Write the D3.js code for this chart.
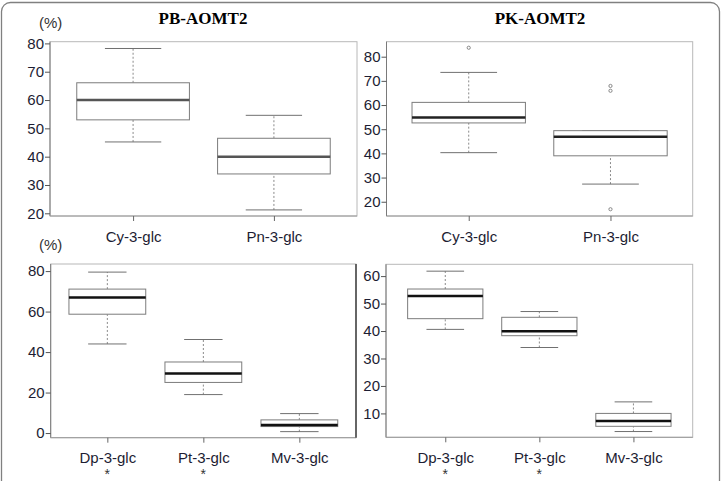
<html>
<head>
  <script src="https://d3js.org/d3.v7.min.js"></script>
  <style>
    body { margin: 0; background: white; }
    text { font-family: "Liberation Sans", Arial, sans-serif; }
  </style>
</head>
<body>
  <svg id="fig" width="724" height="481"></svg>
  <script>
    // box stats: [low whisker, q1, median, q3, high whisker]
    const pbCats = ["Cy-3-glc", "Pn-3-glc"];
    const pbStats = [[45.2, 53, 60, 66.1, 78.2], [21.2, 33.9, 40, 46.5, 54.6]];
    const pbOutliers = [[], []];
    const pbTicks = [20, 30, 40, 50, 60, 70, 80];

    const pkCats = ["Cy-3-glc", "Pn-3-glc"];
    const pkStats = [[40.3, 52.6, 54.8, 61.1, 73.5], [27.3, 39, 46.9, 49.4, 49.4]];
    const pkOutliers = [[83.7], [67.9, 65.9, 16.9]];
    const pkTicks = [20, 30, 40, 50, 60, 70, 80];

    const pb3Cats = ["Dp-3-glc", "Pt-3-glc", "Mv-3-glc"];
    const pb3Stats = [[44, 58.7, 67, 71.1, 79.5], [19, 25, 29.4, 35.1, 46.2], [0.7, 3.2, 4, 6.5, 9.6]];
    const pb3Outliers = [[], [], []];
    const pb3Ticks = [0, 20, 40, 60, 80];

    const pk3Cats = ["Dp-3-glc", "Pt-3-glc", "Mv-3-glc"];
    const pk3Stats = [[40.6, 44.5, 52.8, 55.3, 61.8], [34, 38.3, 39.9, 45, 47.1], [3.4, 5.3, 7.2, 10, 14.2]];
    const pk3Outliers = [[], [], []];
    const pk3Ticks = [10, 20, 30, 40, 50, 60];

    const marks = ["*", "*", ""];

    const svg = d3.select("svg#fig");

    // outer rounded border
    svg.append("rect")
      .attr("x", 1.5).attr("y", 2.5)
      .attr("width", 718).attr("height", 490)
      .attr("rx", 9)
      .style("fill", "none")
      .style("stroke", "#808080")
      .style("stroke-width", 1.3);

    function drawPanel(p) {
      const g = svg.append("g");
      const y = d3.scaleLinear().domain(p.domain).range([p.y1, p.y0]);
      const x = d3.scalePoint().domain(p.cats).range([p.x0, p.x1]).padding(p.pad);
      const boxW = x.step() * 0.8;
      const capW = boxW * 0.5;

      // frame
      g.append("rect")
        .attr("x", p.x0).attr("y", p.y0)
        .attr("width", p.x1 - p.x0).attr("height", p.y1 - p.y0)
        .style("fill", "white")
        .style("stroke", "#b8b8b8");
      g.append("line")
        .attr("x1", p.x0).attr("x2", p.x0)
        .attr("y1", p.y0).attr("y2", p.y1)
        .style("stroke", "#7a7a7a");
      g.append("line")
        .attr("x1", p.x0).attr("x2", p.x1)
        .attr("y1", p.y1).attr("y2", p.y1)
        .style("stroke", "#9a9a9a");

      // y axis
      const yAxis = g.append("g")
        .attr("transform", `translate(${p.x0},0)`)
        .call(d3.axisLeft(y).tickValues(p.ticks).tickSize(5).tickPadding(1));
      yAxis.select(".domain").remove();
      yAxis.selectAll("line").style("stroke", "#555");
      yAxis.selectAll("text")
        .style("font-size", "15px")
        .style("fill", "#1d1d33");

      // x axis
      const xAxis = g.append("g")
        .attr("transform", `translate(0,${p.y1})`)
        .call(d3.axisBottom(x).tickSize(5).tickPadding(10));
      xAxis.select(".domain").remove();
      xAxis.selectAll("line").style("stroke", "#666");
      xAxis.selectAll("text")
        .style("font-size", "15px")
        .style("fill", "#1d1d33");

      p.stats.forEach((s, i) => {
        const cx = x(p.cats[i]);
        // dashed whiskers
        g.append("line")
          .attr("x1", cx).attr("x2", cx)
          .attr("y1", y(s[0])).attr("y2", y(s[1]))
          .style("stroke", "#8a8a8a").style("stroke-dasharray", "2,2");
        g.append("line")
          .attr("x1", cx).attr("x2", cx)
          .attr("y1", y(s[3])).attr("y2", y(s[4]))
          .style("stroke", "#8a8a8a").style("stroke-dasharray", "2,2");
        // caps
        [s[0], s[4]].forEach(v => {
          g.append("line")
            .attr("x1", cx - capW / 2).attr("x2", cx + capW / 2)
            .attr("y1", y(v)).attr("y2", y(v))
            .style("stroke", "#707070");
        });
        // box
        g.append("rect")
          .attr("x", cx - boxW / 2).attr("y", y(s[3]))
          .attr("width", boxW).attr("height", y(s[1]) - y(s[3]))
          .style("fill", "white")
          .style("stroke", "#7c7c7c");
        // median
        g.append("line")
          .attr("x1", cx - boxW / 2).attr("x2", cx + boxW / 2)
          .attr("y1", y(s[2])).attr("y2", y(s[2]))
          .style("stroke", p.medColor).style("stroke-width", 2.5);
        // outliers
        p.outliers[i].forEach(v => {
          g.append("circle")
            .attr("cx", cx).attr("cy", y(v)).attr("r", 1.6)
            .style("fill", "none").style("stroke", "#888");
        });
        if (p.marks) {
          g.append("text")
            .attr("x", cx).attr("y", p.y1 + 41.5)
            .attr("text-anchor", "middle")
            .style("font-size", "14px")
            .style("fill", "#333")
            .text(p.marks[i]);
        }
      });

      if (p.title) {
        g.append("text")
          .attr("x", p.titleX).attr("y", 24)
          .attr("text-anchor", "middle")
          .style("font-family", "'Liberation Serif', 'Times New Roman', serif")
          .style("font-weight", "bold")
          .style("font-size", "17px")
          .text(p.title);
      }
      if (p.unit) {
        g.append("text")
          .attr("x", 39).attr("y", p.y0 - 14)
          .style("font-size", "15px")
          .style("fill", "#333")
          .text("(%)");
      }
      return g;
    }

    drawPanel({ cats: pbCats, stats: pbStats, outliers: pbOutliers, ticks: pbTicks,
      x0: 50, x1: 357, y0: 41.7, y1: 216, domain: [19.05, 80.6], pad: 0.59,
      medColor: "#555", title: "PB-AOMT2", titleX: 203, unit: true });

    drawPanel({ cats: pkCats, stats: pkStats, outliers: pkOutliers, ticks: pkTicks,
      x0: 386.5, x1: 692.7, y0: 41.7, y1: 216, domain: [14.1, 86.2], pad: 0.58,
      medColor: "#222", title: "PK-AOMT2", titleX: 540 });

    drawPanel({ cats: pb3Cats, stats: pb3Stats, outliers: pb3Outliers, ticks: pb3Ticks,
      x0: 50.7, x1: 356, y0: 264, y1: 437.7, domain: [-2.3, 83.5], pad: 0.59,
      medColor: "#111", unit: true, marks: marks });

    // dark right edge of the lower left frame
    svg.append("line")
      .attr("x1", 356).attr("x2", 356)
      .attr("y1", 264).attr("y2", 437.7)
      .style("stroke", "#666").style("stroke-width", 2);

    drawPanel({ cats: pk3Cats, stats: pk3Stats, outliers: pk3Outliers, ticks: pk3Ticks,
      x0: 386, x1: 692.7, y0: 264.3, y1: 437.3, domain: [1.3, 64.3], pad: 0.63,
      medColor: "#111", marks: marks });
  </script>
</body>
</html>
